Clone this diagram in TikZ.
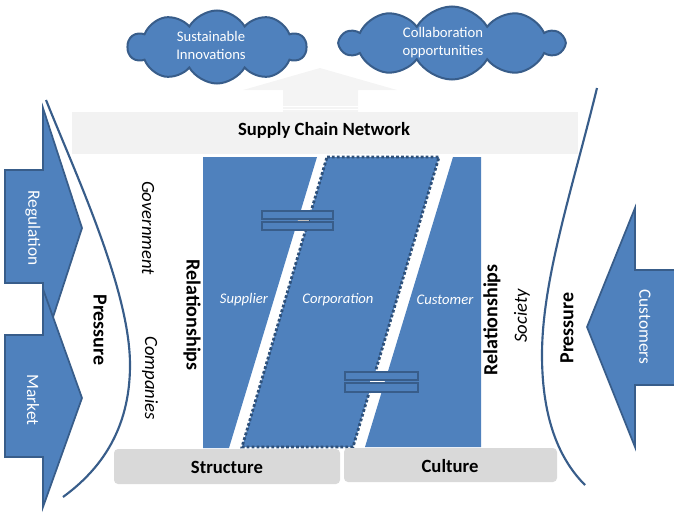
\documentclass[tikz,border=0pt]{standalone}
\usepackage{fontspec}
\setmainfont{Carlito}
\usetikzlibrary{shapes.symbols}
\definecolor{oblue}{HTML}{4F81BD}
\definecolor{dblue}{HTML}{385D8A}
\definecolor{dotblue}{HTML}{2E5079}
\definecolor{bandgrey}{HTML}{F2F2F2}
\definecolor{boxgrey}{HTML}{D9D9D9}
\begin{document}
\begin{tikzpicture}[x=0.75pt,y=-0.75pt,
  cloudshape/.style={cloud, cloud puffs=10, cloud puff arc=120, cloud ignores aspect, fill=oblue, draw=dblue, line width=1.5pt, inner sep=0pt},
  cloudtext/.style={text=white, align=center, font=\fontsize{11}{13.5}\selectfont},
  bluefill/.style={fill=oblue},
  blockarrow/.style={fill=oblue, draw=dblue, line width=1.3pt, line join=miter},
  presscurve/.style={draw=dblue, line width=1.6pt},
  boldlabel/.style={font=\fontsize{14}{16}\selectfont\bfseries},
  bigbold/.style={font=\fontsize{15}{17}\selectfont\bfseries},
  itlabel/.style={font=\fontsize{14}{16}\selectfont\itshape},
  partylabel/.style={text=white, font=\fontsize{11}{13}\selectfont\itshape},
  arrowlabel/.style={text=white, font=\fontsize{13}{15}\selectfont},
  greybox/.style={fill=boxgrey, rounded corners=3pt},
  linkbar/.style={fill=oblue, draw=dblue, line width=1.5pt}
]
\useasboundingbox (0,0) rectangle (674,518);
\begin{scope}
\clip (0,0) rectangle (674,518);

% upward light arrow
\fill[bandgrey!85!white] (283,112) -- (283,90) -- (243,90) -- (320,68) -- (397,90) -- (358,90) -- (358,112) -- cycle;
\draw[white, line width=0.6pt] (283,106) -- (358,106) (283,109) -- (358,109);

% clouds
\node[cloudshape, minimum width=133.5pt, minimum height=54.75pt] (cloudL) at (217,47) {};
\node[cloudshape, minimum width=167pt, minimum height=54.75pt] (cloudR) at (452,43) {};
\node[cloudtext] (tL) at (211,45.5) {Sustainable\\Innovations};
\node[cloudtext] (tR) at (443,42.5) {Collaboration\\opportunities};

% band
\fill[bandgrey] (72,112) rectangle (578,154);
\node[boldlabel] (scn) at (324,130) {Supply Chain Network};

% left block arrows
\path[blockarrow] (5,170) -- (43,170) -- (43,108) -- (82,228) -- (43,348) -- (43,283) -- (5,283) -- cycle;
\path[blockarrow] (5,335) -- (43,335) -- (43,289) -- (82,398) -- (43,507) -- (43,457) -- (5,457) -- cycle;
\node[arrowlabel, rotate=-90] (reg) at (33,228) {Regulation};
\node[arrowlabel, rotate=-90] (mkt) at (33,400) {Market};

% right block arrow
\path[blockarrow] (680,270) -- (635,270) -- (635,208) -- (587,327) -- (635,447) -- (635,385) -- (680,385) -- cycle;
\node[arrowlabel, rotate=-90] (cust) at (645,327) {Customers};

% pressure curves
\path[presscurve] (46,100) .. controls (76,175) and (130,290) .. (130,365) .. controls (130,430) and (100,470) .. (63,497);
\path[presscurve] (597,88) .. controls (572,190) and (542,280) .. (542,355) .. controls (542,420) and (560,460) .. (585,485);
\end{scope}

% blue parties
\path[bluefill] (203,157) -- (317,157) -- (229,448) -- (203,448) -- cycle;
\path[bluefill, draw=dotblue, line width=2.1pt, dash pattern=on 2.1pt off 1.6pt] (327,157) -- (439,157) -- (353,447) -- (242,447) -- cycle;
\path[bluefill] (453,157) -- (481,157) -- (481,447) -- (365,447) -- cycle;

% link symbols
\path[linkbar] (262,211) rectangle (333,219);
\path[linkbar] (262,222) rectangle (333,230);
\draw[gray!50, line width=1pt] (298,220.5) -- (309,220.5);
\path[linkbar] (345,372) rectangle (418,380);
\path[linkbar] (345,383) rectangle (418,392);
\draw[white, line width=1pt] (370,381.5) -- (384,381.5);

\node[partylabel] (sup) at (244,300) {Supplier};
\node[partylabel] (corp) at (338,300) {Corporation};
\node[partylabel] (cus) at (445,300) {Customer};

% base boxes
\path[greybox] (114,449) rectangle (340,484);
\path[greybox] (344,448) rectangle (557,482);
\node[boldlabel] (str) at (227,467) {Structure};
\node[boldlabel] (cul) at (450,466) {Culture};

% side labels
\node[bigbold, rotate=-90] (relL) at (192,315) {Relationships};
\node[bigbold, rotate=90] (relR) at (492,320) {Relationships};
\node[itlabel, rotate=-90] (gov) at (148,228) {Government};
\node[itlabel, rotate=-90] (comp) at (150,378) {Companies};
\node[itlabel, rotate=90] (soc) at (522,316) {Society};
\node[bigbold, rotate=-90] (prL) at (100,330) {Pressure};
\node[bigbold, rotate=90] (prR) at (567,328) {Pressure};
\end{tikzpicture}
\end{document}
